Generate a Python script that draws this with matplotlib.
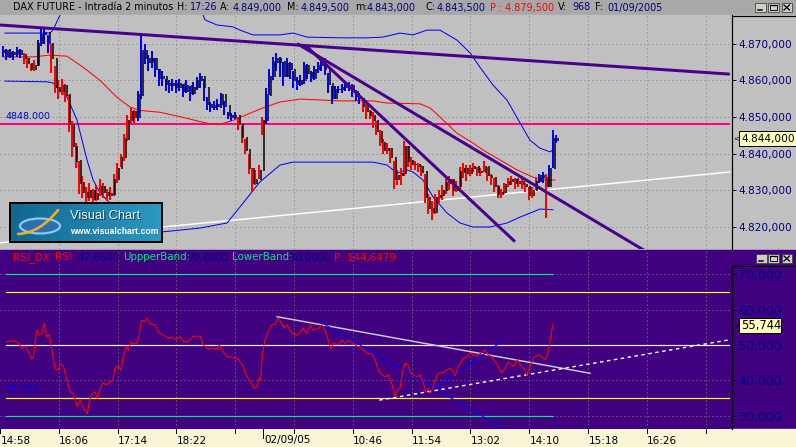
import numpy as np
import matplotlib
matplotlib.use("Agg")
import matplotlib.pyplot as plt
from matplotlib.patches import Rectangle, Ellipse, PathPatch
from matplotlib.path import Path
from matplotlib.ticker import FuncFormatter

plt.rcParams["font.family"] = ["DejaVu Sans"]

# ---------------------------------------------------------------- data
# price bars (one entry every 2 bars of 2 minutes = 4 min), start at bar 2
first_open = 4867.5
closes = [4868, 4866.5, 4867.5, 4867, 4868, 4867, 4866, 4864.5, 4863, 4864,
          4870, 4872.5, 4873, 4870, 4866, 4858, 4857, 4858.5, 4856, 4848,
          4842, 4838, 4832, 4829.5, 4828, 4830, 4827.5, 4829, 4831, 4829.5,
          4828.5, 4829, 4833, 4836, 4839, 4844, 4849, 4851.5, 4850, 4856,
          4868, 4866, 4865, 4866, 4863, 4860.5, 4861, 4859, 4858.5, 4859,
          4858, 4859, 4857, 4858.5, 4856.5, 4858, 4860, 4861, 4858, 4853.5,
          4852.5, 4853, 4853.5, 4856, 4853, 4850.5, 4850, 4850.5, 4848, 4844.5,
          4841, 4836, 4832, 4833, 4835.5, 4849, 4856, 4861, 4865, 4866,
          4865, 4861, 4864.5, 4863, 4860, 4859, 4860, 4864, 4862, 4860.5,
          4863, 4864, 4865, 4863, 4859, 4855, 4857.5, 4857.5, 4858, 4858.5,
          4858.5, 4857, 4855.5, 4855, 4853, 4851.5, 4850.5, 4849, 4846, 4843,
          4841, 4841.5, 4839, 4833, 4834, 4834.5, 4842, 4838, 4837, 4837,
          4836.5, 4835, 4828, 4825, 4824, 4828, 4828.5, 4830, 4832, 4833,
          4830, 4831, 4835, 4836, 4834.5, 4836, 4836.5, 4835, 4835, 4836.5,
          4834, 4833.5, 4831, 4829, 4829.5, 4831.5, 4832.5, 4833, 4832, 4832.5,
          4831.5, 4831, 4828.5, 4830, 4832.5, 4834, 4833.5, 4831, 4836, 4844,
          4843.5]
highs = [4869.5, 4868.5, 4868.5, 4868, 4869, 4868.5, 4867.5, 4866.5, 4864.5, 4865.5,
         4871, 4874, 4874.5, 4872.5, 4870, 4864, 4860, 4860.5, 4859, 4856,
         4849, 4843, 4838, 4834, 4831, 4832, 4830.5, 4831.5, 4833, 4832,
         4830.5, 4831, 4834.5, 4837.5, 4840, 4845.5, 4850.5, 4852.5, 4852, 4857,
         4872, 4870, 4867, 4868, 4866, 4863, 4862.5, 4860.5, 4860, 4860.5,
         4860, 4860.5, 4859, 4860, 4858.5, 4859.5, 4861, 4862, 4860.5, 4855.5,
         4854, 4854.5, 4855, 4856.5, 4854.5, 4851.5, 4851, 4851.5, 4850, 4847.5,
         4844, 4840, 4836, 4835.5, 4837, 4850, 4858, 4863, 4866.5, 4867.5,
         4866.5, 4865, 4866, 4865, 4862.5, 4861, 4861.5, 4865, 4864.5, 4862.5,
         4864, 4865, 4866, 4866, 4862, 4858.5, 4858.5, 4858.5, 4859, 4859.5,
         4859.5, 4859, 4857.5, 4856.5, 4855, 4853.5, 4852, 4851.5, 4849, 4846.5,
         4844, 4843, 4841.5, 4838, 4835.5, 4836, 4843.5, 4842, 4839, 4838,
         4837.5, 4837, 4834.5, 4829, 4827, 4829, 4830, 4831.5, 4833, 4834,
         4833, 4832.5, 4836.5, 4837.5, 4837, 4837, 4837.5, 4836.5, 4836, 4838,
         4836.5, 4834.5, 4833.5, 4831.5, 4830.5, 4832, 4833.5, 4834, 4833.5, 4833.5,
         4833, 4832, 4831, 4831, 4833.5, 4834.5, 4835, 4834.5, 4837, 4846.5,
         4845]
lows = [4866.5, 4865.5, 4866, 4865.5, 4866.5, 4866, 4864.5, 4863.5, 4862.5, 4862.5,
        4864, 4869.5, 4870, 4867.5, 4862, 4856.5, 4855, 4856, 4854, 4846,
        4839, 4836, 4829, 4828, 4826, 4827, 4826.5, 4827, 4828.5, 4828,
        4827, 4827.5, 4828.5, 4832, 4836.5, 4838, 4843.5, 4848.5, 4848.5, 4849,
        4855, 4864.5, 4862.5, 4863.5, 4861, 4858.5, 4858.5, 4857, 4856.5, 4857,
        4856.5, 4857, 4855.5, 4856.5, 4854.5, 4856, 4857.5, 4858, 4854.5, 4852,
        4851.5, 4852, 4852, 4852.5, 4850.5, 4849.5, 4849, 4849.5, 4846.5, 4843,
        4840, 4834.5, 4829.5, 4831.5, 4833, 4845, 4848, 4856, 4860, 4862.5,
        4861, 4858.5, 4861, 4860.5, 4858, 4857.5, 4858.5, 4859, 4860.5, 4859.5,
        4860, 4862, 4862.5, 4861.5, 4856.5, 4853.5, 4855, 4856.5, 4856.5, 4857,
        4857, 4855.5, 4854.5, 4853.5, 4851.5, 4849.5, 4849.5, 4847, 4845, 4842,
        4840, 4840, 4837.5, 4830.5, 4831.5, 4831.5, 4834, 4836.5, 4835.5, 4835.5,
        4835, 4834, 4826.5, 4823.5, 4822, 4823.5, 4826.5, 4827.5, 4829, 4830,
        4828.5, 4829.5, 4830.5, 4833.5, 4832.5, 4834, 4835, 4834, 4834, 4835,
        4832.5, 4831.5, 4829.5, 4828, 4828, 4829, 4831, 4831.5, 4830.5, 4831,
        4830.5, 4829.5, 4827.5, 4828, 4830, 4832, 4832, 4822.5, 4831, 4836,
        4843]

# moving average (red) and bollinger bands (blue): (bar index, price)
ma_bar = [2, 19.1, 28.9, 38.7, 48.0, 57.8, 67.6, 75.2, 80.9, 92.5,
          105.8, 119.7, 127.2, 134.7, 142.8, 152.1, 161.9, 173.5, 196.6, 215.7,
          223.8, 235.3, 242.8, 248.6, 254.4, 264.2, 273.5, 279.3, 289.1, 298.9,
          308.2, 316.3, 321]
ma_val = [4866.4, 4866.4, 4866.9, 4866.6, 4863.6, 4860.0, 4855.4, 4852.7, 4851.8, 4851.3,
          4849.9, 4848.3, 4848.0, 4849.1, 4850.7, 4852.5, 4854.1, 4854.9, 4854.4, 4854.4,
          4853.8, 4853.7, 4853.6, 4852.5, 4850.0, 4845.6, 4842.9, 4841.0, 4838.3, 4835.6,
          4833.6, 4832.8, 4832.8]
upper_bar = [2.9, 28.9, 30.6, 34.7, 40.5, 57.8, 86.7, 109.9, 118.5, 125.5,
             134.7, 138.8, 146.3, 150.3, 161.9, 169.4, 177.5, 196.6, 212.2, 221.4,
             231.3, 238.8, 246.9, 254.4, 264.2, 271.8, 277.5, 285.1, 293.2, 300.7,
             306.4, 312.2, 318.0, 319.7]
upper_val = [4872.9, 4872.9, 4873.7, 4877.8, 4884.6, 4892.9, 4895.6, 4887.4, 4876.5, 4875.1,
             4874.6, 4873.7, 4872.4, 4872.4, 4872.4, 4872.9, 4871.8, 4871.6, 4871.6, 4871.8,
             4872.9, 4872.4, 4873.7, 4873.7, 4871.0, 4867.5, 4863.6, 4858.7, 4854.6, 4848.4,
             4843.7, 4841.5, 4840.5, 4841.0]
lower_bar = [2.9, 27.2, 30.6, 38.7, 44.5, 50.3, 53.8, 57.8, 63.6, 69.4,
             78.1, 92.5, 115.6, 131.3, 138.8, 150.3, 161.9, 169.4, 186.8, 215.7,
             223.8, 229.5, 235.3, 238.8, 244.6, 250.4, 258.5, 266.0, 273.5, 283.3,
             293.2, 300.7, 308.2, 312.2, 319.7]
lower_val = [4859.8, 4859.6, 4859.3, 4855.5, 4849.2, 4838.3, 4832.9, 4829.3, 4826.5, 4823.3,
             4820.5, 4818.6, 4819.7, 4821.1, 4825.5, 4832.3, 4836.9, 4837.7, 4837.7, 4837.7,
             4836.9, 4834.7, 4835.6, 4835.0, 4832.8, 4828.2, 4823.8, 4821.1, 4820.0, 4820.0,
             4821.1, 4822.7, 4824.1, 4824.9, 4824.7]

# drawn trendlines (bar index, price)
trend_long_bar = [0, 422]
trend_long_val = [4875.1, 4861.7]
trend_a_bar = [171.7, 373]
trend_a_val = [4870.05, 4813.5]
trend_b_bar = [177.0, 297.8]
trend_b_val = [4869.4, 4816.0]
support_bar = [0, 422]
support_val = [4815.7, 4835.0]
level_price = 4848.0
level_end_bar = 421.5
last_price = 4844.0

# RSI
rsi_bar = [3.5, 7.7, 10.6, 12.5, 14.5, 16.4, 18.3, 19.3, 21.2, 22.7,
           24.1, 25.6, 27.0, 28.5, 29.9, 30.8, 31.8, 33.7, 34.7, 36.6,
           38.6, 40.5, 42.4, 43.4, 44.7, 46.3, 48.2, 49.7, 50.5, 51.6,
           53.0, 54.9, 56.3, 57.8, 59.4, 61.7, 63.6, 65.2, 66.5, 68.4,
           69.8, 71.3, 72.9, 74.2, 75.6, 77.1, 79.0, 80.5, 81.9, 83.8,
           84.8, 86.7, 89.6, 92.1, 94.4, 97.3, 99.3, 101.2, 104.1, 106.0,
           108.9, 111.8, 115.7, 117.6, 120.5, 123.3, 124.9, 126.8, 129.1, 131.1,
           134.9, 137.8, 140.7, 142.6, 145.0, 146.9, 148.4, 149.9, 150.7, 151.7,
           153.2, 155.1, 157.1, 159.0, 160.9, 162.9, 164.2, 165.8, 167.7, 169.6,
           171.6, 173.5, 175.4, 177.3, 179.2, 181.2, 184.0, 186.0, 187.9, 189.8,
           191.2, 192.7, 195.6, 197.6, 199.5, 201.4, 204.3, 206.3, 209.1, 212.0,
           214.9, 216.9, 218.8, 220.7, 222.6, 224.5, 226.5, 228.4, 229.8, 231.3,
           232.9, 234.2, 236.1, 237.5, 239.0, 241.0, 242.9, 244.8, 246.2, 247.7,
           249.0, 250.5, 251.5, 253.4, 256.3, 258.3, 260.2, 262.1, 263.1, 265.0,
           267.9, 269.9, 271.8, 273.7, 275.6, 278.5, 280.4, 282.3, 284.3, 286.2,
           288.1, 290.1, 292.0, 293.9, 296.8, 299.1, 301.6, 303.6, 304.5, 306.5,
           308.8, 311.3, 313.2, 315.1, 316.5, 317.4, 318.4, 319.6, 319.9]
rsi_val = [50.9, 51.2, 50.6, 49.1, 49.7, 48.1, 46.0, 46.7, 54.2, 52.8,
           53.1, 56.1, 52.3, 52.8, 49.1, 46.2, 43.4, 42.9, 44.8, 44.1,
           40.1, 36.8, 36.3, 34.4, 32.5, 34.4, 32.1, 31.1, 30.5, 34.0,
           35.9, 36.8, 34.9, 37.7, 39.3, 38.7, 39.6, 40.1, 43.4, 44.1,
           42.9, 46.7, 49.7, 48.4, 50.9, 50.5, 50.3, 52.8, 57.1, 56.6,
           57.6, 56.1, 55.7, 53.3, 52.8, 51.9, 52.3, 51.6, 52.3, 50.9,
           50.9, 52.5, 52.5, 50.0, 48.8, 49.1, 48.6, 50.0, 48.1, 46.7,
           46.5, 46.0, 43.9, 41.0, 39.6, 37.7, 38.2, 40.6, 40.1, 47.2,
           51.4, 53.8, 55.7, 55.9, 57.6, 56.1, 54.7, 55.7, 54.2, 53.1,
           52.8, 53.5, 54.7, 53.3, 55.7, 54.2, 54.7, 55.7, 54.2, 51.4,
           48.8, 50.5, 50.0, 51.4, 50.5, 51.4, 50.5, 49.7, 49.1, 47.6,
           47.6, 45.8, 42.9, 41.5, 41.0, 41.5, 39.2, 35.4, 37.3, 37.7,
           42.9, 44.8, 44.3, 42.0, 41.5, 41.0, 41.5, 39.2, 36.8, 37.7,
           36.3, 38.2, 40.1, 42.0, 42.2, 42.9, 43.4, 42.4, 41.2, 43.9,
           46.2, 46.7, 47.7, 47.2, 46.9, 47.8, 48.6, 47.2, 46.7, 45.3,
           43.9, 42.0, 43.4, 45.3, 43.9, 45.8, 43.9, 42.9, 41.5, 43.9,
           46.7, 47.2, 46.7, 45.8, 47.2, 49.1, 52.3, 55.4, 55.744]
rsi_upper_band, rsi_lower_band = 70, 30
rsi_upper_alert, rsi_lower_alert = 65, 35
rsi_mid = 50
rsi_band_end_bar = 320
rsi_gray_bar = [160.2, 341.2]
rsi_gray_val = [58.0, 42.0]
rsi_bdown_bar = [185.0, 291.0]
rsi_bdown_val = [56.6, 26.4]
rsi_bup_bar = [247.7, 290.7]
rsi_bup_val = [36.3, 51.2]
rsi_dash_bar = [219.3, 421.0]
rsi_dash_val = [34.4, 51.4]
rsi_last = 55.744

price_ticks = [4820, 4830, 4840, 4850, 4860, 4870]
rsi_ticks = [30, 40, 50, 60, 70]
time_tick_bars = [0, 34, 68, 102, 136, 170, 204, 238, 272, 306, 340, 374, 408]
time_tick_labels = ["14:58", "16:06", "17:14", "18:22", "", "", "10:46",
                    "11:54", "13:02", "14:10", "15:18", "16:26", ""]
day_break_bar = 152
day_break_label = "02/09/05"

# ---------------------------------------------------------------- layout
W, H = 796, 447
PX = 0.72
BAR_PX = 1.7294
PANEL_R = 732
XMAX = PANEL_R / BAR_PX
NAVY = "#000080"
PURPLE_BG = "#400080"
GRAY_BG = "#c0c0c0"
TL = "#48008c"
GREEN = "#00e888"

fig = plt.figure(figsize=(W / 100, H / 100), dpi=100)


def axes_px(x0, y0, x1, y1, **kw):
    return fig.add_axes([x0 / W, 1 - y1 / H, (x1 - x0) / W, (y1 - y0) / H], **kw)


bg = axes_px(0, 0, W, H, zorder=-5)
bg.set_xlim(0, W)
bg.set_ylim(H, 0)
bg.axis("off")
bg.add_patch(Rectangle((0, 0), W, 15, color="#a8a8a8"))
bg.add_patch(Rectangle((0, 15), W, 235, color=GRAY_BG))
bg.add_patch(Rectangle((0, 250), W, 179, color=PURPLE_BG))
bg.add_patch(Rectangle((0, 429), W, 18, color="#f7f5d6"))

# ---------------------------------------------------------------- price panel
ax = axes_px(0, 15, PANEL_R, 249)
ax.set_facecolor(GRAY_BG)
ax.set_xlim(0, XMAX)
PY0, PY1 = 4814.0, 4877.83
ax.set_ylim(PY0, PY1)
dot = (0, (1, 3))
for b in time_tick_bars[1:]:
    ax.plot([b, b], [PY0, PY1], color="#808080", lw=PX, ls=dot, zorder=1)
for v in price_ticks:
    ax.plot([0, XMAX], [v, v], color="#808080", lw=PX, ls=dot, zorder=1)

ax.plot([0, level_end_bar], [level_price, level_price], color="#ff0080", lw=2 * PX, zorder=2)
ax.plot(support_bar, support_val, color="white", lw=1.5 * PX, zorder=2)
ax.plot(upper_bar, upper_val, color="#0000ff", lw=PX, zorder=3)
ax.plot(lower_bar, lower_val, color="#0000ff", lw=PX, zorder=3)
ax.plot(ma_bar, ma_val, color="#ff0000", lw=PX, zorder=3)

n = min(len(closes), len(highs), len(lows))
c = np.array(closes[:n], float)
h = np.array(highs[:n], float)
l = np.array(lows[:n], float)
o = np.r_[first_open, c[:-1]]
t = 2.0 * np.arange(1, n + 1)
ma_at = np.interp(t, ma_bar, ma_val)
cols = np.where(c >= ma_at, "#0000ff", "#ff0000")
ax.vlines(t - 0.3, l, h, colors=cols, lw=2.0 * PX, zorder=4)
ax.vlines(t + 0.75, np.minimum(o, c) - 0.15, np.maximum(o, c) + 0.15, colors="black",
          lw=1.5 * PX, zorder=4)

for xb, yv in [(trend_long_bar, trend_long_val), (trend_a_bar, trend_a_val),
               (trend_b_bar, trend_b_val)]:
    ax.plot(xb, yv, color=TL, lw=3 * PX, solid_capstyle="butt", zorder=5)

ax.yaxis.tick_right()
ax.set_yticks(price_ticks)
ax.yaxis.set_major_formatter(
    FuncFormatter(lambda v, p: f"{int(round(v)) // 1000}.{int(round(v)) % 1000:03d},000"))
ax.tick_params(axis="y", colors=NAVY, length=4 * PX, width=PX, pad=2.5 * PX, labelsize=7.6)
ax.set_xticks([])
for s in ["left", "top", "bottom"]:
    ax.spines[s].set_visible(False)
ax.spines["right"].set_color("black")
ax.spines["right"].set_linewidth(1.2 * PX)

# ---------------------------------------------------------------- RSI panel
ax2 = axes_px(0, 250, PANEL_R, 429)
ax2.set_facecolor(PURPLE_BG)
ax2.set_xlim(0, XMAX)
RY0, RY1 = 26.24, 76.87
ax2.set_ylim(RY0, RY1)
for b in time_tick_bars[1:]:
    ax2.plot([b, b], [RY0, RY1], color="#8a8a70", lw=PX, ls=dot, zorder=1)
for v in [30, 40, 60, 70]:
    ax2.plot([0, XMAX], [v, v], color="#8a8a70", lw=PX, ls=dot, zorder=1)
x0 = rsi_bar[0]
for v in (rsi_upper_band, rsi_lower_band):
    ax2.plot([x0, rsi_band_end_bar], [v, v], color=GREEN, lw=1.2 * PX, zorder=2)
for v in (rsi_upper_alert, rsi_lower_alert):
    ax2.plot([x0, level_end_bar], [v, v], color="#ffff00", lw=1.2 * PX, zorder=2)
ax2.plot([x0, level_end_bar], [rsi_mid, rsi_mid], color="white", lw=1.2 * PX, zorder=2)

m = min(len(rsi_bar), len(rsi_val))
ax2.plot(rsi_bar[:m], rsi_val[:m], color="#ff0000", lw=1.1 * PX, zorder=4)
ax2.plot(rsi_gray_bar, rsi_gray_val, color="#c8c8d0", lw=1.5 * PX, zorder=3)
ax2.plot(rsi_bdown_bar, rsi_bdown_val, color="#0000ff", lw=1.1 * PX, zorder=3)
ax2.plot(rsi_bup_bar, rsi_bup_val, color="#0000ff", lw=1.1 * PX, zorder=3)
ax2.plot(rsi_dash_bar, rsi_dash_val, color="white", lw=1.4 * PX, dashes=[2.5, 2.5], zorder=3)

ax2.yaxis.tick_right()
ax2.set_yticks(rsi_ticks)
ax2.yaxis.set_major_formatter(FuncFormatter(lambda v, p: f"{int(round(v))},000"))
ax2.tick_params(axis="y", colors=NAVY, length=4 * PX, width=PX, pad=2 * PX, labelsize=9)
ax2.set_xticks([])
for s in ["left", "top", "bottom"]:
    ax2.spines[s].set_visible(False)
ax2.spines["right"].set_color("black")
ax2.spines["right"].set_linewidth(1.2 * PX)
ax2.spines["right"].set_bounds(RY0, 72.35)

# ---------------------------------------------------------------- logo
lg = axes_px(10, 203, 162, 242, zorder=8)
grad = np.linspace(0, 1, 200)
c0 = np.array([0.07, 0.40, 0.56])
c1 = np.array([0.17, 0.60, 0.76])
img = c0[None, None, :] + (c1 - c0)[None, None, :] * grad[None, :, None]
img = np.repeat(img, 20, axis=0)
lg.imshow(img, extent=[0, 152, 39, 0], aspect="auto")
lg.set_xlim(0, 152)
lg.set_ylim(39, 0)
lg.set_xticks([])
lg.set_yticks([])
for s in lg.spines.values():
    s.set_color("black")
    s.set_linewidth(2 * PX)
lg.add_patch(Ellipse((30, 23), 40, 15, facecolor="#2a6fb0", edgecolor="#8ccaf2", lw=2.2 * PX))
sw = Path([(8, 31), (30, 30), (48, 7)], [Path.MOVETO, Path.CURVE3, Path.CURVE3])
lg.add_patch(PathPatch(sw, facecolor="none", edgecolor="#f2b01e", lw=2.6 * PX, capstyle="round"))
lg.text(61, 14, "Visual Chart", color="#0b3a52", fontsize=9.3, family="Liberation Sans",
        va="center", ha="left")
lg.text(60, 13, "Visual Chart", color="#eef4f8", fontsize=9.3, family="Liberation Sans",
        va="center", ha="left")
lg.text(60, 28.5, "www.visualchart.com", color="white", fontsize=6.2, family="Liberation Sans",
        fontweight="bold", va="center", ha="left")

# ---------------------------------------------------------------- overlay (texts, boxes)
fg = axes_px(0, 0, W, H, zorder=10)
fg.set_xlim(0, W)
fg.set_ylim(H, 0)
fg.axis("off")

title_parts = [(13, "DAX FUTURE - Intradía 2 minutos", "black"),
               (177, "H:", "black"), (190, "17:26", NAVY),
               (220, "A:", "black"), (233, "4.849,000", NAVY),
               (287, "M:", "black"), (301, "4.849,500", NAVY),
               (355, "m:", "black"), (367, "4.843,000", NAVY),
               (425, "C:", "black"), (437, "4.843,500", NAVY),
               (490, "P : 4.879,500", "#ff0000"),
               (558, "V:", "black"), (572, "968", NAVY),
               (595, "F:", "black"), (607, "01/09/2005", NAVY)]
for x, s, col in title_parts:
    fg.text(x, 7.5, s, color=col, fontsize=6.9, va="center", ha="left")

rsi_parts = [(13, "RSI_DX", "#ff0000"), (55, "RSI:", "#ff0000"), (77, "47,6540", NAVY),
             (123, "UppperBand:", GREEN), (187, "70,0000", NAVY),
             (232, "LowerBand:", GREEN), (289, "30,0000", NAVY),
             (334, "P: 144,6479", "#ff0000")]
for x, s, col in rsi_parts:
    fg.text(x, 257.5, s, color=col, fontsize=7.4, va="center", ha="left")

fg.text(5, 116.5, f"{level_price:.3f}", color="#0000e0", fontsize=6.8, va="center", ha="left")
fg.text(5, 390, f"{rsi_lower_alert:.3f}", color="#0000d8", fontsize=6.8, va="center", ha="left")

# last value boxes
fg.add_patch(Rectangle((739, 131), 57, 15, facecolor="#ffffc0", edgecolor="black", lw=PX))
fg.text(741, 138.8, f"{int(last_price) // 1000}.{int(last_price) % 1000:03d},000",
        fontsize=7.6, color="black", va="center", ha="left")
fg.text(736, 138.5, "<", fontsize=5, color="black", va="center", ha="center")
fg.add_patch(Rectangle((739, 318), 42, 15, facecolor="#ffffc0", edgecolor="black", lw=PX))
fg.text(741, 325.8, f"{rsi_last:.3f}".replace(".", ","), fontsize=8.3, color="black",
        va="center", ha="left")
fg.text(736, 325.5, "<", fontsize=5, color="black", va="center", ha="center")

# axis-area borders
fg.plot([PANEL_R, W], [15.5, 15.5], color="black", lw=1.2 * PX)
fg.plot([PANEL_R, W], [266, 266], color="black", lw=1.2 * PX)


def buttons(xs, y0):
    for k, x in enumerate(xs):
        fg.add_patch(Rectangle((x, y0), 10.5, 9, facecolor="#d4d0c8", edgecolor="#404040", lw=0.8 * PX))
        if k == 0:
            fg.plot([x + 2.5, x + 6.5], [y0 + 6.8, y0 + 6.8], color="black", lw=1.5 * PX)
        elif k == 1:
            fg.add_patch(Rectangle((x + 2, y0 + 1.8), 6.5, 5.5, facecolor="none",
                                   edgecolor="black", lw=0.9 * PX))
            fg.plot([x + 2, x + 8.5], [y0 + 2.3, y0 + 2.3], color="black", lw=1.3 * PX)
        else:
            fg.plot([x + 2.5, x + 8], [y0 + 2, y0 + 7], color="black", lw=1.3 * PX)
            fg.plot([x + 2.5, x + 8], [y0 + 7, y0 + 2], color="black", lw=1.3 * PX)


buttons([755, 768, 781.5], 3)
buttons([756, 768, 781.5], 254)

# time axis strip
for b, lab in zip(time_tick_bars, time_tick_labels):
    x = b * BAR_PX
    fg.plot([x, x], [429, 433], color="black", lw=PX)
    if lab:
        fg.text(x + (1 if b == 0 else 0.5), 440.5, lab, fontsize=7.5, color="black",
                va="center", ha="left")
xd = day_break_bar * BAR_PX
fg.plot([xd, xd], [429, 438], color="black", lw=PX)
fg.text(xd + 1.5, 440.5, day_break_label, fontsize=7.5, color="black", va="center", ha="left")

fig.savefig("out.png", dpi=100)
